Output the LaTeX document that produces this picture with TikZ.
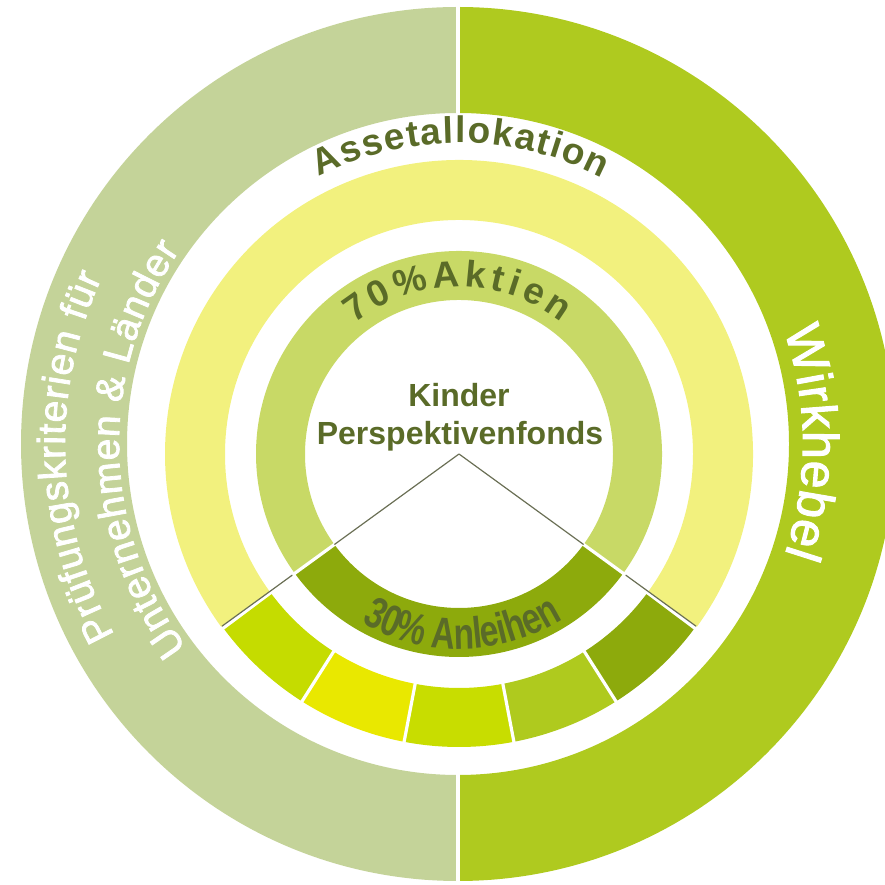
\documentclass[tikz,border=0pt]{standalone}
\usepackage{fontspec}
\setmainfont{Liberation Sans}
\newfontfamily\narrowfont[FakeStretch=0.76]{Liberation Sans}
\newfontfamily\medfont[FakeBold=2]{Liberation Sans}
\usetikzlibrary{calc}
\definecolor{sage}{HTML}{C4D399}
\definecolor{lime}{HTML}{AFCA1F}
\definecolor{ringyellow}{HTML}{F2F17E}
\definecolor{ringlight}{HTML}{C8D966}
\definecolor{ringdark}{HTML}{8DAA0C}
\definecolor{segA}{HTML}{C5DC00}
\definecolor{segB}{HTML}{E9E800}
\definecolor{segC}{HTML}{C8DD00}
\definecolor{segD}{HTML}{AFCA1E}
\definecolor{segE}{HTML}{8DAA0C}
\definecolor{olive}{HTML}{5A6B28}
\definecolor{vgray}{HTML}{6A6F55}
\makeatletter
\newlength\at@w
\newlength\at@tot
\newcount\at@n
\newbox\at@box
\def\at@measure#1{\pgfinterruptpicture\setbox\at@box\hbox{#1\at@c}\global\at@w=\wd\at@box\endpgfinterruptpicture}
\newcommand\arctext[8]{%
  \global\at@tot=0pt
  \@tfor\at@c:=#8\do{\at@measure{#1}\global\advance\at@tot\at@w\global\advance\at@tot#6pt}%
  \global\advance\at@tot-#6pt
  \pgfmathsetmacro\at@tmp{#5-(#7)*\at@tot/2/#4*57.29578}\global\let\at@ang\at@tmp
  \@tfor\at@c:=#8\do{%
    \at@measure{#1}%
    \pgfmathsetmacro\at@mid{\at@ang+(#7)*\at@w/2/#4*57.29578}%
    \pgfmathsetmacro\at@rot{\at@mid+(#7)*90}%
    \global\advance\at@n1
    \node[name=ch\the\at@n,text=#2,inner sep=0pt,anchor=base,rotate=\at@rot] at ($(#3)+(\at@mid:#4)$) {#1\at@c};%
    \pgfmathsetmacro\at@tmp{\at@ang+(#7)*(\at@w+#6pt)/#4*57.29578}\global\let\at@ang\at@tmp
  }}
\makeatother
\newcommand\annseg[6]{% color, center, r1, r2, a1, a2
  \fill[#1] ($(#2)+(#5:#4)$) arc[start angle=#5, end angle=#6, radius=#4]
    -- ($(#2)+(#6:#3)$) arc[start angle=#6, end angle=#5, radius=#3] -- cycle;}
\tikzset{
  gapline/.style={white, line width=3.2pt},
  vline/.style={vgray, line width=1.2pt},
  centertext/.style={text=olive, font=\bfseries\fontsize{32}{36}\selectfont, inner sep=0pt, anchor=base}
}
\begin{document}
\begin{tikzpicture}[x=1pt,y=1pt]
\useasboundingbox (0,0) rectangle (885,885);
\clip (0,0) rectangle (885,885);
\coordinate (O) at (458,441);
\coordinate (C) at (459,431);
% outer ring
\annseg{sage}{O}{331}{437}{90}{270}
\annseg{lime}{O}{331}{437}{-90}{90}
\draw[white, line width=4pt] ($(O)+(90:325)$) -- ($(O)+(90:445)$);
\draw[white, line width=4pt] ($(O)+(270:325)$) -- ($(O)+(270:445)$);
% yellow ring and bottom segments
\annseg{ringyellow}{C}{234}{294}{-36}{216}
\annseg{segA}{C}{234}{293}{216.8}{237.6}
\annseg{segB}{C}{234}{293}{237.6}{259.2}
\annseg{segC}{C}{234}{293}{259.2}{280.8}
\annseg{segD}{C}{234}{293}{280.8}{302.4}
\annseg{segE}{C}{234}{293}{302.4}{323.2}
\foreach \a in {237.6,259.2,280.8,302.4}
  \draw[gapline] ($(C)+(\a:230)$) -- ($(C)+(\a:298)$);
% inner ring
\annseg{ringlight}{C}{154}{203}{-36}{216}
\annseg{ringdark}{C}{154}{203}{216}{324}
\draw[gapline] ($(C)+(216:150)$) -- ($(C)+(216:207)$);
\draw[gapline] ($(C)+(324:150)$) -- ($(C)+(324:207)$);
% V lines
\coordinate (L1) at ($(C)+(216:154)$);
\coordinate (L2) at ($(C)+(216:206)$);
\coordinate (L3) at ($(C)+(216:293)$);
\coordinate (R1) at ($(C)+(324:154)$);
\coordinate (R2) at ($(C)+(324:206)$);
\coordinate (R3) at ($(C)+(324:293)$);
\draw[vline] (C) -- (L1);
\draw[vline] (L2) -- (L3);
\draw[vline] (C) -- (R1);
\draw[vline] (R2) -- (R3);
% center text
\node[centertext] (kinder) at (459,478) {Kinder};
\node[centertext] (pfonds) at (460,440) {Perspektivenfonds};
% curved texts
\arctext{\bfseries\fontsize{37}{40}\selectfont}{olive}{C}{311}{89.7}{1.5}{-1}{Assetallokation}
\arctext{\bfseries\fontsize{37}{40}\selectfont}{olive}{C}{167}{90.5}{4.5}{-1}{70\%Aktien}
\arctext{\narrowfont\bfseries\fontsize{44}{46}\selectfont}{olive}{C}{195}{271}{-0.5}{1}{30\%~Anleihen}
\arctext{\medfont\fontsize{39}{42}\selectfont}{white}{O}{393}{182}{1}{-1}{Prüfungskriterien~für}
\arctext{\medfont\fontsize{39}{42}\selectfont}{white}{O}{339}{181}{1}{-1}{Unternehmen~\&~Länder}
\arctext{\medfont\fontsize{50}{52}\selectfont}{white}{O}{345}{0.3}{0.8}{-1}{Wirkhebel}
\end{tikzpicture}
\end{document}
